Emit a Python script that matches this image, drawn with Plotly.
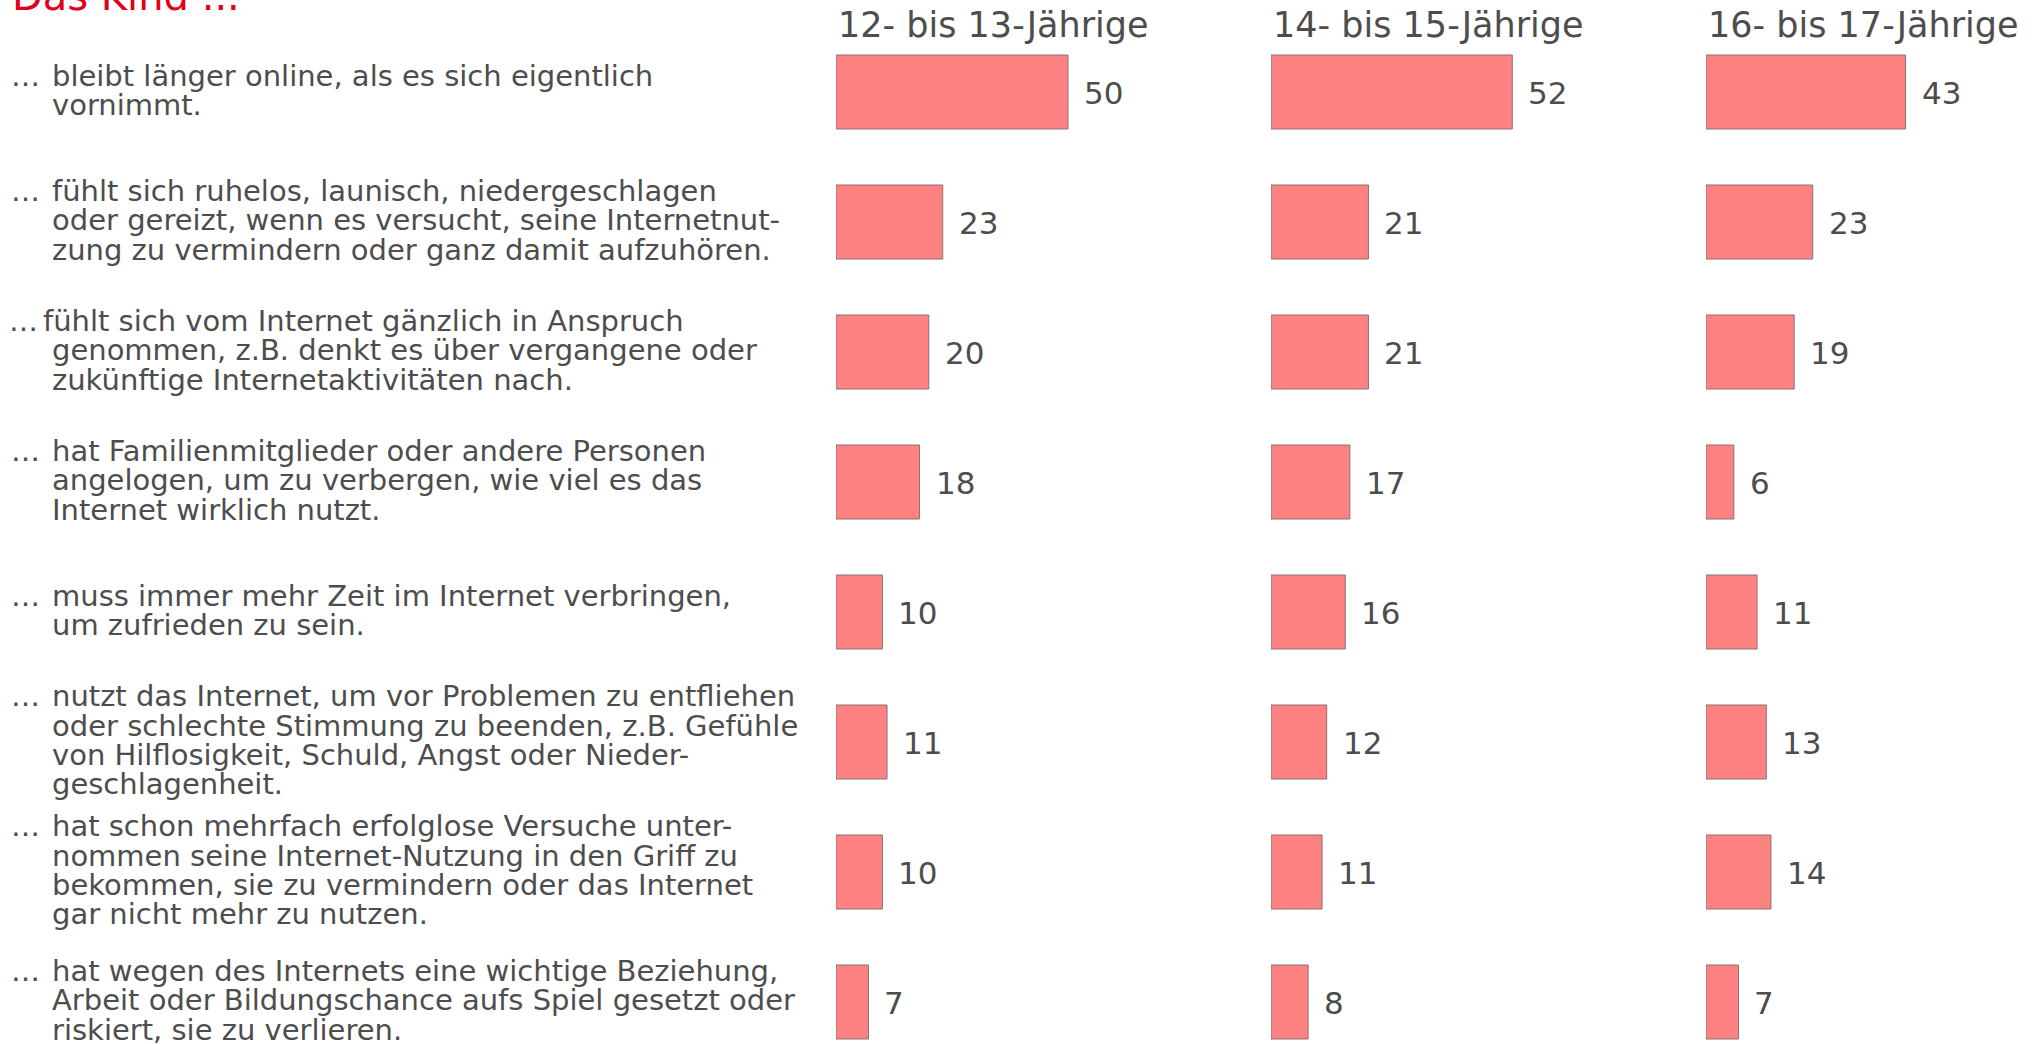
import plotly.graph_objects as go

W, H = 2044, 1044

title_text = "Das Kind ..."
groups = ["12- bis 13-Jährige", "14- bis 15-Jährige", "16- bis 17-Jährige"]

labels = [
    ["bleibt länger online, als es sich eigentlich", "vornimmt."],
    ["fühlt sich ruhelos, launisch, niedergeschlagen",
     "oder gereizt, wenn es versucht, seine Internetnut-",
     "zung zu vermindern oder ganz damit aufzuhören."],
    ["fühlt sich vom Internet gänzlich in Anspruch",
     "genommen, z.B. denkt es über vergangene oder",
     "zukünftige Internetaktivitäten nach."],
    ["hat Familienmitglieder oder andere Personen",
     "angelogen, um zu verbergen, wie viel es das",
     "Internet wirklich nutzt."],
    ["muss immer mehr Zeit im Internet verbringen,", "um zufrieden zu sein."],
    ["nutzt das Internet, um vor Problemen zu entfliehen",
     "oder schlechte Stimmung zu beenden, z.B. Gefühle",
     "von Hilflosigkeit, Schuld, Angst oder Nieder-",
     "geschlagenheit."],
    ["hat schon mehrfach erfolglose Versuche unter-",
     "nommen seine Internet-Nutzung in den Griff zu",
     "bekommen, sie zu vermindern oder das Internet",
     "gar nicht mehr zu nutzen."],
    ["hat wegen des Internets eine wichtige Beziehung,",
     "Arbeit oder Bildungschance aufs Spiel gesetzt oder",
     "riskiert, sie zu verlieren."],
]

values_12_13 = [50, 23, 20, 18, 10, 11, 10, 7]
values_14_15 = [52, 21, 21, 17, 16, 12, 11, 8]
values_16_17 = [43, 23, 19, 6, 11, 13, 14, 7]
all_values = [values_12_13, values_14_15, values_16_17]

# ---- styling ----
FONT = "DejaVu Sans"
TEXT_COLOR = "#4d4d4d"
RED = "#e2001a"
BAR_COLOR = "#ff8282"
BAR_LINE = "#8a7070"

LABEL_SIZE = 29
HEADER_SIZE = 35
VALUE_SIZE = 31
TITLE_SIZE = 40

ROW0_PX = 92.0
ROW_STEP_PX = 130.0
PX_PER_UNIT = 4.64
COL_LEFT_PX = [836, 1271, 1706]
COL_W_PX = 330
LINE_PX = 29.3

n = len(labels)
y_idx = list(range(n))
y_top = -ROW0_PX / ROW_STEP_PX
y_bot = (H - ROW0_PX) / ROW_STEP_PX
px_to_y = 1.0 / ROW_STEP_PX

fig = go.Figure()
axis_names = ["x", "x2", "x3"]
for gi, (vals, ax) in enumerate(zip(all_values, axis_names)):
    fig.add_trace(go.Bar(
        x=vals, y=y_idx, orientation="h", xaxis=ax, yaxis="y",
        width=74 / ROW_STEP_PX,
        marker=dict(color=BAR_COLOR, line=dict(color=BAR_LINE, width=1)),
        showlegend=False, hoverinfo="x",
    ))
    for yi, v in zip(y_idx, vals):
        fig.add_annotation(
            x=v, y=yi + 1 * px_to_y, xref=ax, yref="y", text=str(v), showarrow=False,
            xanchor="left", yanchor="middle", xshift=14,
            font=dict(family=FONT, size=VALUE_SIZE, color=TEXT_COLOR),
        )
    fig.add_annotation(
        x=(COL_LEFT_PX[gi]) / W, y=1 - 25 / H, xref="paper", yref="paper",
        text=groups[gi], showarrow=False, xanchor="left", yanchor="middle",
        font=dict(family=FONT, size=HEADER_SIZE, color=TEXT_COLOR),
    )

# row labels
for yi, lines in enumerate(labels):
    nl = len(lines)
    for li, line in enumerate(lines):
        yy = yi + ((li - (nl - 1) / 2) * LINE_PX - 1.8) * px_to_y
        x_text = 50
        if li == 0:
            x_dots = 9
            if yi == 2:
                x_dots, x_text = 7, 41
            fig.add_annotation(
                x=x_dots / W, y=yy, xref="paper", yref="y", text="…",
                showarrow=False, xanchor="left", yanchor="middle",
                font=dict(family=FONT, size=LABEL_SIZE, color=TEXT_COLOR),
            )
        fig.add_annotation(
            x=x_text / W, y=yy, xref="paper", yref="y", text=line,
            showarrow=False, xanchor="left", yanchor="middle",
            font=dict(family=FONT, size=LABEL_SIZE, color=TEXT_COLOR),
        )

fig.add_annotation(
    x=10 / W, y=1 + 4 / H, xref="paper", yref="paper", text=title_text,
    showarrow=False, xanchor="left", yanchor="middle",
    font=dict(family=FONT, size=TITLE_SIZE, color=RED),
)

layout = dict(
    width=W, height=H, margin=dict(l=0, r=0, t=0, b=0),
    paper_bgcolor="white", plot_bgcolor="white",
    yaxis=dict(range=[y_bot, y_top], domain=[0, 1], visible=False,
               showgrid=False, zeroline=False),
    font=dict(family=FONT, color=TEXT_COLOR),
)
for gi, ax in enumerate(axis_names):
    key = "xaxis" if ax == "x" else "xaxis" + ax[1:]
    layout[key] = dict(
        domain=[COL_LEFT_PX[gi] / W, min(1.0, (COL_LEFT_PX[gi] + COL_W_PX) / W)],
        range=[0, COL_W_PX / PX_PER_UNIT], visible=False,
        showgrid=False, zeroline=False, anchor="y",
    )
fig.update_layout(**layout)

fig.write_html(
    "out.html",
    config={"displayModeBar": False},
    post_script="document.body.style.margin='0';document.body.style.overflow='hidden';",
)
